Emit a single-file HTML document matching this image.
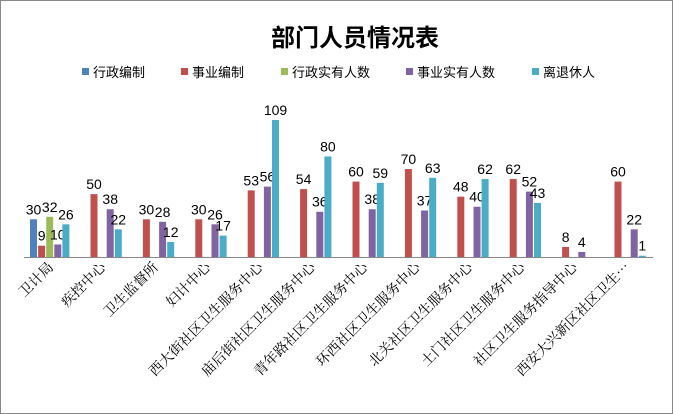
<!DOCTYPE html>
<html><head><meta charset="utf-8"><style>
html,body{margin:0;padding:0;background:#fff;}
svg{display:block;font-family:"Liberation Sans","Noto Sans CJK SC",sans-serif;}
</style></head><body>
<svg width="673" height="414" viewBox="0 0 673 414" id="c">
<rect x="0.5" y="0.5" width="672" height="413" fill="#fff" stroke="#888"/>
<text x="355" y="46" text-anchor="middle" font-size="24" font-weight="bold" fill="#000" font-family="'Liberation Sans','Noto Sans CJK SC',sans-serif">部门人员情况表</text>
<g font-size="13" fill="#000">
<rect x="82" y="68" width="7" height="7" fill="#4F81BD"/><text x="93" y="77">行政编制</text>
<rect x="181" y="68" width="7" height="7" fill="#C0504D"/><text x="192" y="77">事业编制</text>
<rect x="281" y="68" width="7" height="7" fill="#9BBB59"/><text x="292" y="77">行政实有人数</text>
<rect x="406" y="68" width="7" height="7" fill="#8064A2"/><text x="417" y="77">事业实有人数</text>
<rect x="532" y="68" width="7" height="7" fill="#4BACC6"/><text x="543" y="77">离退休人</text>
</g>
<line x1="24" y1="257.5" x2="653" y2="257.5" stroke="#888"/>
<g id="bars"></g>
</svg>
<script>
var cats=["卫计局","疾控中心","卫生监督所","妇计中心","西大街社区卫生服务中心","庙后街社区卫生服务中心","青年路社区卫生服务中心","环西社区卫生服务中心","北关社区卫生服务中心","土门社区卫生服务中心","社区卫生服务指导中心","西安大兴新区社区卫生…"];
var d=[[30,9,32,10,26],[0,50,0,38,22],[0,30,0,28,12],[0,30,0,26,17],[0,53,0,56,109],[0,54,0,36,80],[0,60,0,38,59],[0,70,0,37,63],[0,48,0,40,62],[0,62,0,52,43],[0,8,0,4,0],[0,60,0,22,1]];
var col=["#4F81BD","#C0504D","#9BBB59","#8064A2","#4BACC6"];
var s="",cw=52.4,k=1.257;
for(var i=0;i<12;i++){var x0=24+i*cw;
 for(var j=0;j<5;j++){var v=d[i][j];if(!v)continue;var h=v*k,x=x0+6+j*8.1;
  s+='<rect x="'+x+'" y="'+(257-h)+'" width="7" height="'+h+'" fill="'+col[j]+'"/>';
  s+='<text x="'+(x+3.5)+'" y="'+(252-h)+'" text-anchor="middle" font-size="14">'+v+'</text>';}
 var cx=x0+cw/2+4;
 s+='<text transform="translate('+cx+',268) rotate(-45)" text-anchor="end" font-size="14" font-family="\'Noto Serif CJK SC\',serif">'+cats[i]+'</text>';
}
document.getElementById("bars").innerHTML=s;
</script>
</body></html>
